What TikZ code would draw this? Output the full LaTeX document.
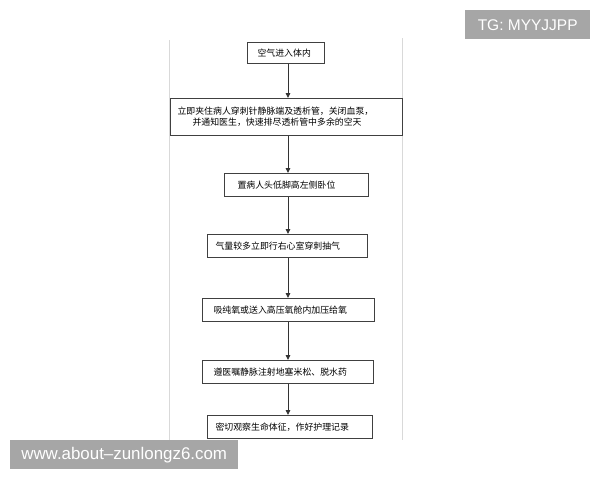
\documentclass[tikz,border=0pt]{standalone}
\usepackage{fontspec}
\newfontfamily\cjk{Noto Sans CJK SC}
\newfontfamily\wm{Liberation Sans}
\usetikzlibrary{arrows.meta}
\definecolor{wmgray}{HTML}{A6A6A6}
\definecolor{edge}{HTML}{D9D9D9}
\tikzset{
  box/.style={draw=black!75, line width=1pt, inner ysep=0pt, minimum height=23pt,
    align=left, font=\cjk\fontsize{8.9}{11}\selectfont, anchor=north west},
  arr/.style={draw=black!80, line width=0.9pt, -{Triangle[width=4.5pt,length=5pt]}},
  pageedge/.style={draw=edge, line width=1pt},
  wmbox/.style={fill=wmgray, text=white, inner sep=0pt, anchor=north west}
}
\begin{document}
\begin{tikzpicture}[x=1pt,y=-1pt]
\useasboundingbox[fill=white] (0,0) rectangle (600,480);
% page edges of the scan
\coordinate (eL1) at (169.5,40);
\coordinate (eL2) at (169.5,440);
\coordinate (eR1) at (402.5,38);
\coordinate (eR2) at (402.5,440);
\draw[pageedge] (eL1) -- (eL2);
\draw[pageedge] (eR1) -- (eR2);
% boxes
\node[box, minimum height=21pt, inner xsep=10pt, text width=57pt] (b1) at (247,42) {空气进入体内};
\node[box, minimum height=37pt, inner xsep=7pt, text width=218pt] (b2) at (170,98)
  {立即夹住病人穿刺针静脉端及透析管，关闭血泵，\\\hspace*{15pt}并通知医生，快速排尽透析管中多余的空天};
\node[box, inner xsep=13pt, text width=118pt] (b3) at (224,173) {置病人头低脚高左侧卧位};
\node[box, inner xsep=8pt, text width=144pt] (b4) at (207,234) {气量较多立即行右心室穿刺抽气};
\node[box, inner xsep=11pt, text width=150pt] (b5) at (202,298) {吸纯氧或送入高压氧舱内加压给氧};
\node[box, inner xsep=11pt, text width=149pt] (b6) at (202,360) {遵医嘱静脉注射地塞米松、脱水药};
\node[box, inner xsep=8pt, text width=149pt] (b7) at (207,415) {密切观察生命体征，作好护理记录};
% arrows
\coordinate (ax) at (288,0);
\draw[arr] (b1.south -| ax) -- (b2.north -| ax);
\draw[arr] (b2.south -| ax) -- (b3.north -| ax);
\draw[arr] (b3.south -| ax) -- (b4.north -| ax);
\draw[arr] (b4.south -| ax) -- (b5.north -| ax);
\draw[arr] (b5.south -| ax) -- (b6.north -| ax);
\draw[arr] (b6.south -| ax) -- (b7.north -| ax);
% watermarks
\node[wmbox, minimum width=125pt, minimum height=29pt, font=\wm\fontsize{15.5}{16}\selectfont] (tg) at (465,10) {TG: MYYJJPP};
\node[wmbox, minimum width=228pt, minimum height=29pt, font=\wm\fontsize{16.9}{17}\selectfont] (url) at (10,440) {www.about–zunlongz6.com};
\end{tikzpicture}
\end{document}
